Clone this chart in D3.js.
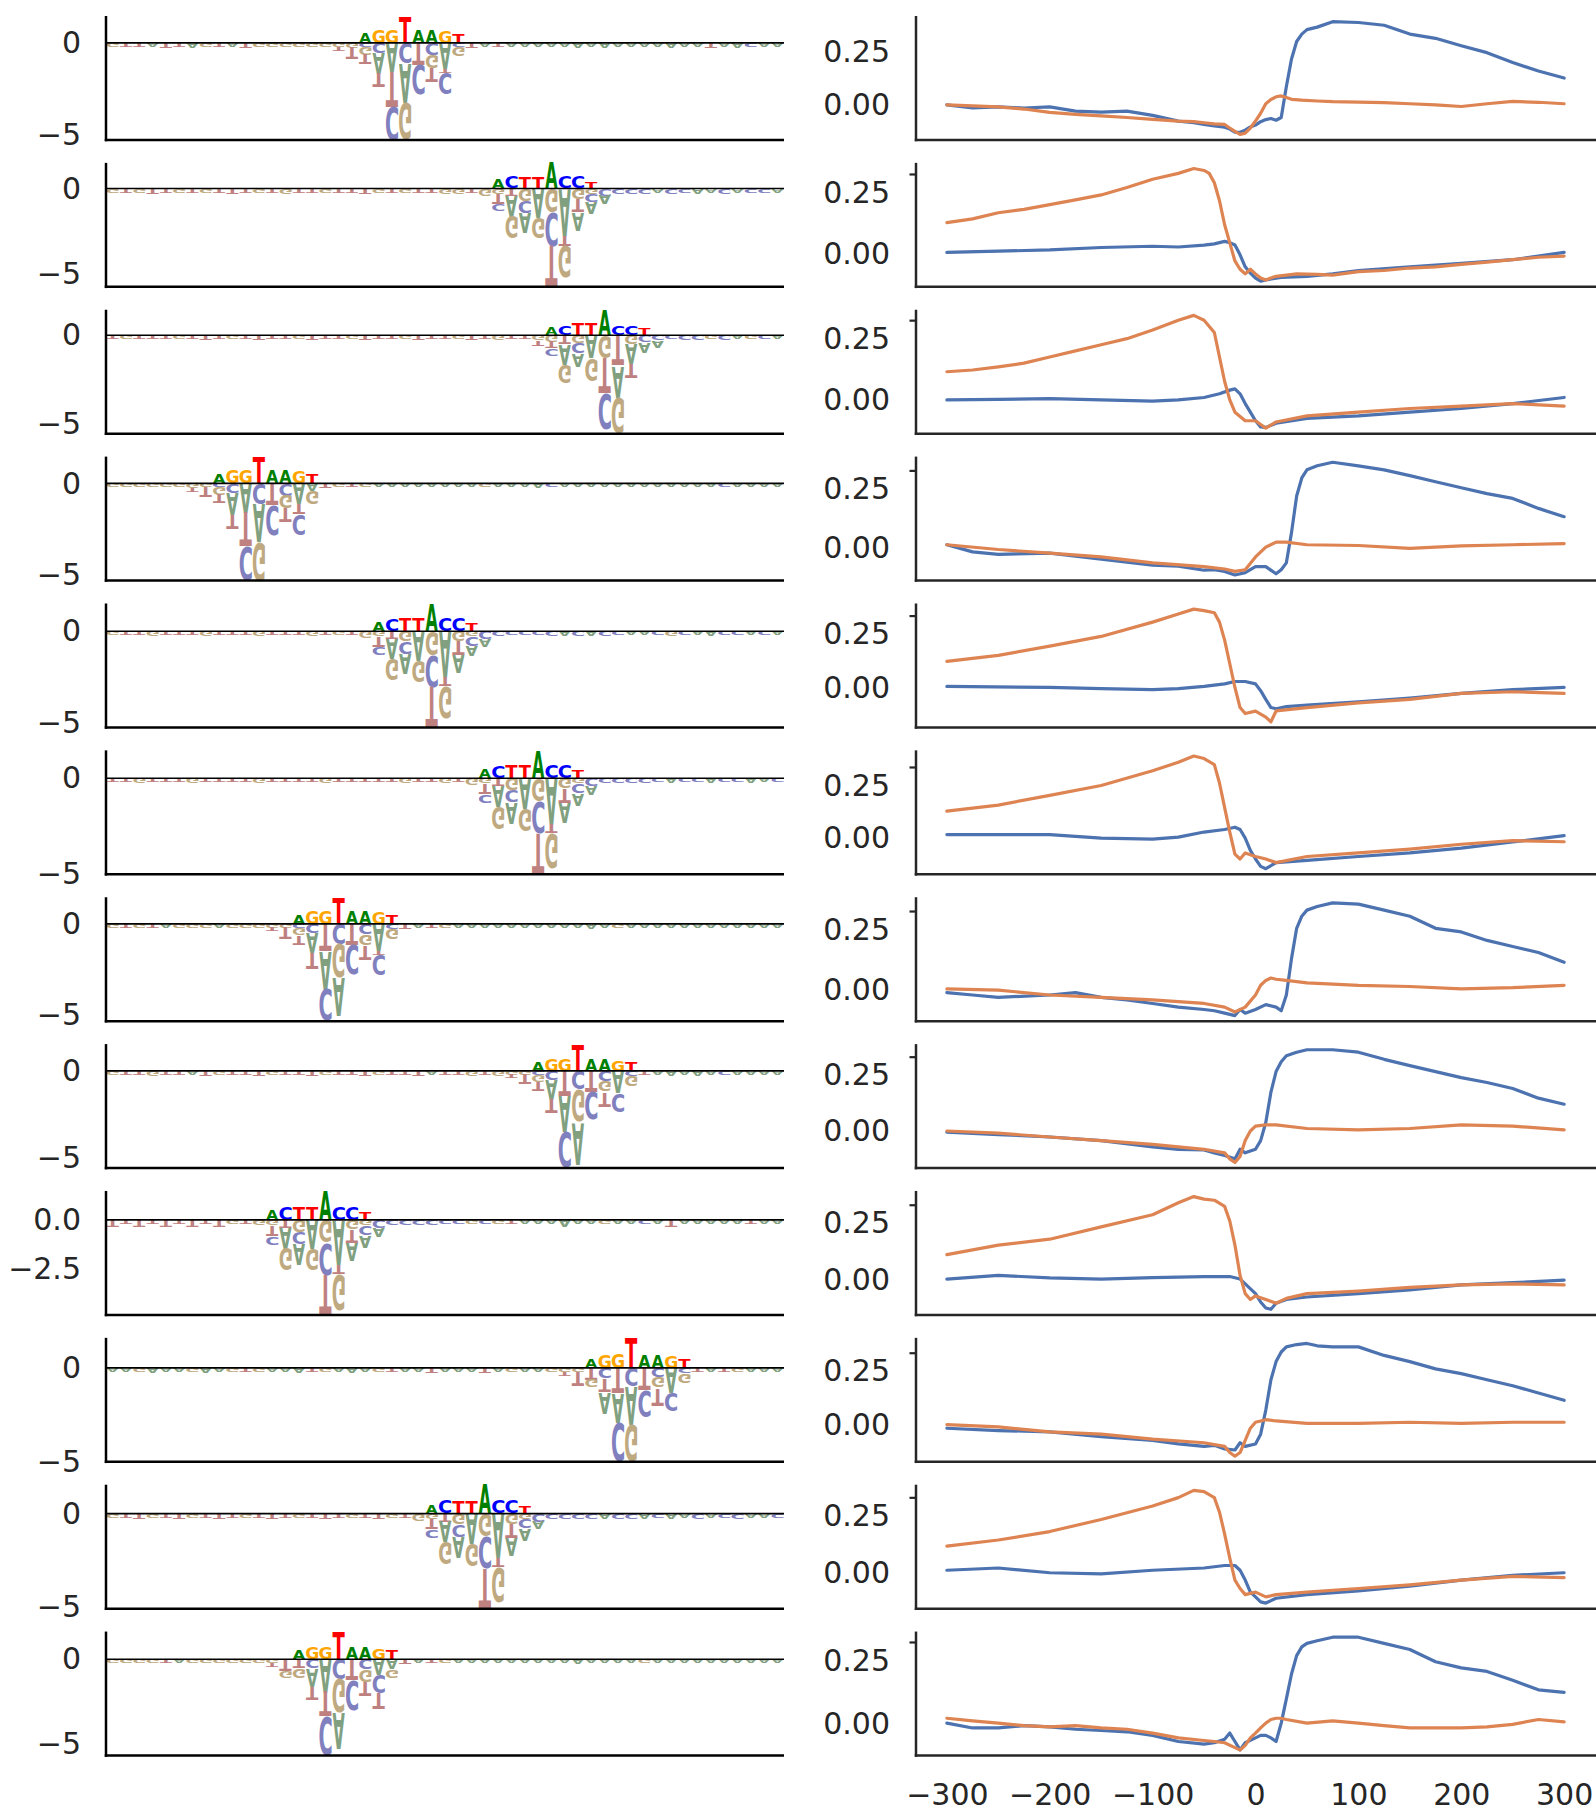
<!DOCTYPE html>
<html><head><meta charset="utf-8">
<script src="https://cdn.jsdelivr.net/npm/d3@7"></script>
<style>body{margin:0;background:#fff;} svg{display:block;}</style>
</head><body>
<svg id="chart" width="1596" height="1813"></svg>
<script>
// ---------------- LOGO DATA ----------------
const logoStart = [19, 29, 33, 8, 20, 28, 14, 32, 12, 36, 24, 14];
const logoMotif = ["AGGTAAGT","ACTTACCT","ACTTACCT","AGGTAAGT","ACTTACCT","ACTTACCT","AGGTAAGT","AGGTAAGT","ACTTACCT","AGGTAAGT","ACTTACCT","AGGTAAGT"];
const logoTop = [
  [.55,.75,.75,1.45,.7,.7,.65,.5],
  [.54,.68,.68,.68,1.5,.73,.73,.4],
  [.46,.55,.65,.65,1.45,.55,.55,.33],
  [.5,.7,.7,1.46,.7,.7,.65,.5],
  [.5,.65,.7,.7,1.52,.7,.7,.4],
  [.5,.65,.7,.7,1.45,.7,.7,.4],
  [.5,.75,.75,1.47,.7,.7,.65,.5],
  [.5,.7,.7,1.54,.7,.7,.65,.5],
  [.55,.7,.7,.7,1.49,.7,.7,.4],
  [.5,.7,.75,1.6,.7,.7,.65,.5],
  [.5,.7,.7,.7,1.56,.7,.7,.4],
  [.5,.7,.75,1.63,.7,.7,.65,.5]
];
// stacks below zero for positions start-2 .. start+9 (listed from zero downward)
const logoBelow = [
  ["G.2 T.2","G.25 T.6","C.2 G.4 T.55","C.55 A1.1 T.8","A1.55 T1.9 C1.8","C1.1 A2.1 G2.05","T1.2 C1.6","C.65 G.7 T.8","A1.4 T.2 C1.2","C.2 G.5","T.3","A.2"],
  ["T.25","G.4","G.3 T.6 C.4","T.4 A1.2 G1.3","G.7 C.7 A1.15","A1.7 G1.2","G1.4 C1.95 T2.4","A2.75 T.6 G1.9","G.6 T.8 A1.05","G.3 C.5 A.65","C.4 A.5","C.3"],
  ["T.25","G.3 T.3","G.35 T.4 C.4","T.55 A1.1 G1.05","G.45 C.6 A.75","A1.3 G1.3","G1.3 T2.0 C2.1","T1.75 A1.8 G2.03","G.5 A1.1 T.85","C.4 A.6","C.3 A.4","C.25"],
  ["G.25 T.2","G.2 T.6","C.2 G.4 T.5","C.5 A1.2 T.8","A1.55 T1.9 C1.85","C1.1 A2.1 G2.1","T1.2 C1.6","C.65 G.7 T.8","A1.1 T.6 C1.1","A.4 G.7","T.25","G.2"],
  ["T.2","G.35","G.3 T.55 C.4","T.4 A1.1 G1.2","G.6 C.65 A1.1","A1.6 G1.2","G1.3 C1.75 T2.2","A2.5 T.5 G1.8","G.55 T.75 A1.0","G.3 C.5 A.6","C.4 A.45","C.3"],
  ["T.2","G.35","G.3 T.55 C.4","T.4 A1.1 G1.2","G.6 C.65 A1.1","A1.6 G1.2","G1.2 C1.7 T2.1","A2.4 T.5 G1.8","G.55 T.75 A1.0","G.3 C.5 A.6","C.4 A.45","C.3"],
  ["G.2 T.2","G.2 T.65","C.25 G.4 T.5","C.5 A1.1 T.9","T1.5 A2.07 C1.8","C1.1 G1.85 A2.1","T1.15 C1.6","C.6 G.6 T.8","A1.5 T.2 C1.1","C.3 G.6","T.25","A.2"],
  ["G.2 T.2","G.2 T.6","C.25 G.4 T.5","C.5 A1.1 T.85","T1.4 A2.1 C2.1","C1.1 G1.9 A2.4","T1.2 C1.6","C.6 G.65 T.8","A1.3 C1.1","C.3 G.6","T.25","A.2"],
  ["T.2","G.3","G.3 T.55 C.4","T.4 A1.05 G1.15","G.6 C.6 A1.1","A1.5 G1.1","G1.2 C1.65 T2.04","A2.3 T.5 G1.9","G.5 T.7 A.95","G.3 C.5 A.6","C.4 A.45","C.3"],
  ["G.2 T.2","G.2 T.75","T.6 G.45","C.6 T.7 A1.15","T1.35 A1.55 C2.1","C1.0 A2.0 G2.0","T1.2 C1.4","C.5 G.6 T.9","A1.3 C1.0","C.3 G.5","T.2","A.2"],
  ["T.2","G.35","G.3 T.55 C.4","T.4 A1.1 G1.2","G.6 C.65 A1.1","A1.6 G1.2","G1.25 C1.75 T2.12","A2.4 T.5 G1.9","G.55 T.75 A1.0","G.3 C.5 A.6","C.4 A.45","C.3"],
  ["G.2 T.2","T.7 G.4","T.55 G.55","C.55 A1.1 T.8","A1.9 T1.45 C2.33","C1.15 G2.0 A2.2","T1.25 C1.75","C.6 G.75 T.85","A.9 C1.1 T.9","A.6 G.5","T.3","A.2"]
];
// faint background letters below zero (one per position, '.' = inside motif block); heights in tenths
const logoBgSeq = [
  "GTTATTAGTATGGGGGG............TAAAAAAAAAAAAAAATAACAA",
  "GTGTTGTGTTTGTGTTGTTTGTGTTGG............CCACCAACACCA",
  "TGTTTGTTTGTTTTGTTTGTTTGTTTGTTGT............CCGCAGCA",
  "GGGGGG............TGAAAAAAAAGAAAACAAAAAAAAAAAACAAAA",
  "GTTGTTTGTTTGTTTGTG............CCCCACACCAACGCAACCACA",
  "TTGTTTGTTTTGTTTTGTTTTTGTTG............CCCCACCACCAAC",
  "GTGTAGGGAGGG............TGAAAAAAAAAAAAGAAAAAAAAAAAA",
  "GTTGTTATGTTTGTTTGTTTGTTTATTGTG............AAAACAAAA",
  "TTTTTTTTTG............CCCCCGCGTAAAAAAGAACATAAAAATAA",
  "AAGAAAGAAGTGAAATGAAAGTAATAAATAGAAG............TGAAA",
  "GTTGTTGTTTGTTTGTTTGTTG............CCCACCACAACACCAAC",
  "GGGGTAGGGGGG............TGAAAAAAAAAAAAAAGAAAAAAAAAA"
];
const logoBgH = [
  "222232322232222222222222222222222223232222322323222",
  "222322222322232222232222233333333333333332323232222",
  "222222232223222322232223222323233333333333333232222",
  "222222222222222222222222222222223222222222222222222",
  "222322232223222322222222222222222333332222322322222",
  "223222322223222232222232233333333333333332322322322",
  "222222222222222222222222222222222222322222222222222",
  "222322232223222322232223222323333333333333323222222",
  "323232323233333333333333322222222232222222322222222",
  "222322232222223222322222322232222222222222222222222",
  "223223223222322232223233333333333333333332323223222",
  "222222222222222222222222222222222223222222222222222"
];
const logoTickVals = [[0,-5],[0,-5],[0,-5],[0,-5],[0,-5],[0,-5],[0,-5],[0,-5],[0,-2.5],[0,-5],[0,-5],[0,-5]];

// ---------------- LINE DATA (x = position, y = value) ----------------
const blue1 = [[-300,0],[-275,-.015],[-250,-.01],[-225,-.015],[-200,-.01],[-175,-.03],[-150,-.035],[-125,-.03],[-100,-.05],[-75,-.077],[-60,-.085],[-50,-.093],[-40,-.1],[-30,-.106],[-25,-.115],[-20,-.13],[-15,-.13],[-10,-.12],[-5,-.105],[0,-.096],[5,-.08],[10,-.07],[15,-.065],[20,-.073],[25,-.06],[30,.087],[35,.217],[40,.3],[45,.335],[50,.356],[60,.368],[75,.394],[100,.39],[125,.377],[150,.335],[175,.315],[200,.28],[225,.247],[250,.2],[275,.16],[300,.127]];
const orange1 = [[-300,0],[-275,-.005],[-250,-.01],[-225,-.02],[-200,-.036],[-175,-.045],[-150,-.052],[-125,-.06],[-100,-.069],[-75,-.077],[-60,-.08],[-50,-.085],[-40,-.09],[-30,-.093],[-25,-.11],[-20,-.126],[-15,-.14],[-10,-.134],[-5,-.11],[0,-.077],[5,-.04],[10,.005],[15,.025],[20,.038],[25,.042],[30,.035],[35,.026],[45,.022],[60,.018],[75,.015],[100,.013],[125,.01],[150,.005],[175,0],[200,-.008],[225,.005],[250,.016],[275,.012],[300,.005]];
const blue2 = [[-300,.005],[-250,.01],[-200,.015],[-150,.025],[-100,.03],[-75,.027],[-50,.035],[-40,.04],[-30,.05],[-25,.045],[-20,.035],[-15,-.005],[-10,-.054],[-5,-.08],[0,-.1],[5,-.113],[10,-.108],[20,-.1],[25,-.097],[50,-.093],[75,-.083],[100,-.069],[150,-.054],[200,-.04],[250,-.025],[300,.005]];
const orange2 = [[-300,.127],[-275,.142],[-250,.167],[-225,.181],[-200,.2],[-175,.22],[-150,.24],[-125,.27],[-100,.304],[-75,.328],[-60,.348],[-50,.34],[-45,.328],[-40,.29],[-35,.216],[-30,.118],[-25,.044],[-20,-.03],[-15,-.064],[-10,-.083],[-5,-.064],[0,-.083],[5,-.1],[10,-.108],[15,-.1],[20,-.093],[40,-.083],[60,-.085],[75,-.088],[100,-.074],[125,-.069],[150,-.059],[175,-.054],[200,-.044],[225,-.035],[250,-.025],[275,-.015],[300,-.01]];
const blue3 = [[-300,0],[-250,.002],[-200,.005],[-150,0],[-100,-.005],[-75,0],[-50,.01],[-35,.025],[-25,.04],[-20,.045],[-15,.025],[-10,-.015],[-5,-.05],[0,-.085],[5,-.11],[10,-.112],[20,-.095],[50,-.075],[100,-.065],[150,-.05],[200,-.035],[250,-.015],[300,.01]];
const orange3 = [[-300,.115],[-275,.122],[-250,.135],[-225,.15],[-200,.175],[-175,.2],[-150,.225],[-125,.25],[-100,.285],[-75,.325],[-60,.345],[-50,.325],[-40,.275],[-35,.175],[-30,.075],[-25,0],[-20,-.05],[-10,-.085],[0,-.085],[5,-.1],[10,-.115],[20,-.09],[50,-.065],[100,-.05],[150,-.035],[200,-.025],[250,-.015],[300,-.025]];
const blue4 = [[-300,.015],[-275,-.015],[-250,-.025],[-200,-.02],[-150,-.046],[-100,-.071],[-75,-.075],[-50,-.092],[-40,-.09],[-30,-.097],[-20,-.112],[-10,-.102],[0,-.077],[10,-.077],[20,-.107],[25,-.09],[30,-.061],[35,.066],[40,.22],[45,.296],[50,.33],[60,.347],[75,.362],[100,.347],[125,.33],[150,.306],[175,.28],[200,.255],[225,.23],[250,.21],[275,.168],[300,.133]];
const orange4 = [[-300,.015],[-250,-.005],[-200,-.02],[-150,-.036],[-100,-.061],[-50,-.077],[-30,-.087],[-20,-.097],[-10,-.09],[0,-.036],[10,.005],[20,.026],[30,.026],[50,.015],[100,.012],[150,0],[200,.01],[250,.015],[300,.02]];
const blue5 = [[-300,.005],[-200,0],[-150,-.005],[-100,-.01],[-75,-.005],[-50,.005],[-30,.017],[-20,.028],[-10,.028],[0,.017],[5,-.015],[10,-.056],[15,-.094],[20,-.1],[30,-.09],[50,-.083],[100,-.067],[150,-.05],[200,-.028],[250,-.01],[300,0]];
const orange5 = [[-300,.122],[-250,.15],[-200,.194],[-150,.239],[-100,.306],[-75,.344],[-60,.367],[-50,.36],[-40,.35],[-35,.306],[-30,.222],[-25,.111],[-20,0],[-15,-.094],[-10,-.122],[0,-.111],[10,-.139],[15,-.161],[20,-.11],[50,-.094],[100,-.072],[150,-.056],[200,-.028],[250,-.02],[300,-.028]];
const blue6 = [[-300,.017],[-200,.017],[-150,0],[-100,-.005],[-75,.005],[-50,.029],[-30,.041],[-20,.052],[-15,.041],[-10,0],[-5,-.058],[0,-.099],[5,-.134],[10,-.145],[20,-.116],[50,-.105],[100,-.087],[150,-.07],[200,-.047],[250,-.018],[300,.012]];
const orange6 = [[-300,.128],[-250,.157],[-200,.203],[-150,.25],[-100,.32],[-75,.36],[-60,.39],[-50,.378],[-40,.349],[-35,.262],[-30,.145],[-25,.029],[-20,-.076],[-15,-.099],[-10,-.07],[0,-.087],[10,-.099],[20,-.116],[50,-.087],[100,-.07],[150,-.052],[200,-.029],[250,-.012],[300,-.017]];
const blue7 = [[-300,-.01],[-275,-.02],[-250,-.03],[-200,-.02],[-175,-.01],[-150,-.03],[-125,-.04],[-100,-.055],[-75,-.07],[-50,-.08],[-40,-.085],[-30,-.095],[-20,-.105],[-15,-.08],[-10,-.095],[0,-.08],[10,-.06],[20,-.07],[25,-.085],[30,-.02],[35,.13],[40,.255],[45,.305],[50,.33],[60,.345],[75,.36],[100,.355],[125,.33],[150,.305],[175,.255],[200,.24],[225,.205],[250,.18],[275,.155],[300,.115]];
const orange7 = [[-300,.005],[-250,0],[-200,-.02],[-150,-.03],[-100,-.04],[-50,-.055],[-30,-.07],[-20,-.09],[-10,-.07],[0,-.02],[5,.02],[10,.04],[15,.05],[20,.045],[30,.04],[50,.03],[100,.02],[150,.015],[200,.005],[250,.01],[300,.02]];
const blue8 = [[-300,-.005],[-250,-.016],[-200,-.027],[-150,-.043],[-100,-.071],[-75,-.082],[-50,-.085],[-40,-.098],[-30,-.11],[-20,-.125],[-15,-.082],[-10,-.098],[0,-.082],[5,-.043],[10,.038],[15,.174],[20,.266],[25,.31],[30,.337],[40,.353],[50,.364],[75,.364],[100,.353],[125,.321],[150,.293],[175,.266],[200,.239],[225,.217],[250,.19],[275,.147],[300,.12]];
const orange8 = [[-300,0],[-250,-.01],[-200,-.027],[-150,-.043],[-100,-.06],[-50,-.082],[-30,-.098],[-25,-.125],[-20,-.141],[-15,-.114],[-10,-.043],[-5,0],[0,.022],[10,.027],[20,.027],[50,.011],[100,.005],[150,.011],[200,.027],[250,.022],[300,.005]];
const blue9 = [[-300,.005],[-250,.021],[-200,.01],[-150,.005],[-100,.011],[-50,.016],[-25,.016],[-15,.005],[-10,-.016],[0,-.059],[5,-.096],[10,-.122],[15,-.128],[20,-.101],[30,-.085],[50,-.074],[100,-.059],[150,-.043],[200,-.021],[250,-.011],[300,0]];
const orange9 = [[-300,.112],[-250,.154],[-200,.18],[-150,.234],[-100,.287],[-75,.34],[-60,.367],[-50,.356],[-40,.351],[-30,.324],[-25,.26],[-20,.154],[-15,.021],[-10,-.059],[-5,-.085],[0,-.069],[10,-.085],[20,-.101],[30,-.08],[50,-.059],[100,-.048],[150,-.032],[200,-.021],[250,-.016],[300,-.021]];
const blue10 = [[-300,-.017],[-250,-.028],[-200,-.034],[-150,-.057],[-100,-.074],[-75,-.09],[-50,-.102],[-40,-.097],[-30,-.114],[-20,-.119],[-15,-.085],[-10,-.102],[0,-.091],[5,-.045],[10,.068],[15,.21],[20,.295],[25,.34],[30,.364],[40,.375],[50,.38],[60,.369],[75,.364],[100,.364],[125,.324],[150,.295],[175,.261],[200,.239],[225,.21],[250,.182],[275,.148],[300,.114]];
const orange10 = [[-300,0],[-250,-.011],[-200,-.034],[-150,-.045],[-100,-.068],[-50,-.085],[-30,-.102],[-25,-.131],[-20,-.148],[-15,-.131],[-10,-.074],[-5,-.017],[0,.011],[10,.023],[20,.017],[50,.006],[100,.006],[150,.011],[200,.006],[250,.011],[300,.011]];
const blue11 = [[-300,.011],[-250,.021],[-200,0],[-150,-.005],[-100,.011],[-50,.021],[-30,.032],[-20,.032],[-15,.011],[-10,-.032],[-5,-.085],[0,-.106],[5,-.128],[10,-.133],[20,-.112],[50,-.096],[100,-.08],[150,-.059],[200,-.032],[250,-.011],[300,0]];
const orange11 = [[-300,.117],[-250,.144],[-200,.181],[-150,.234],[-100,.293],[-75,.33],[-60,.362],[-50,.356],[-40,.33],[-35,.266],[-30,.17],[-25,.064],[-20,-.032],[-15,-.069],[-10,-.096],[0,-.085],[10,-.106],[20,-.096],[50,-.085],[100,-.069],[150,-.053],[200,-.032],[250,-.016],[300,-.021]];
const blue12 = [[-300,.005],[-275,-.014],[-250,-.014],[-225,-.005],[-200,-.01],[-175,-.019],[-150,-.024],[-125,-.029],[-100,-.043],[-75,-.067],[-50,-.077],[-40,-.072],[-30,-.058],[-25,-.034],[-20,-.067],[-15,-.1],[-10,-.072],[0,-.053],[5,-.043],[10,-.043],[15,-.053],[20,-.067],[25,.005],[30,.1],[35,.197],[40,.269],[45,.303],[50,.317],[60,.327],[75,.341],[100,.341],[125,.317],[150,.293],[175,.245],[200,.221],[225,.207],[250,.173],[275,.135],[300,.125]];
const orange12 = [[-300,.024],[-275,.014],[-250,.005],[-225,-.005],[-200,-.01],[-175,-.005],[-150,-.014],[-125,-.019],[-100,-.034],[-75,-.053],[-50,-.063],[-40,-.067],[-30,-.072],[-20,-.091],[-15,-.1],[-10,-.082],[-5,-.053],[0,-.034],[5,-.014],[10,.005],[15,.019],[20,.024],[25,.024],[30,.019],[50,.005],[75,.014],[100,.005],[125,-.005],[150,-.014],[175,-.014],[200,-.014],[225,-.01],[250,0],[275,.019],[300,.01]];
const blueSeries = [blue1,blue2,blue3,blue4,blue5,blue6,blue7,blue8,blue9,blue10,blue11,blue12];
const orangeSeries = [orange1,orange2,orange3,orange4,orange5,orange6,orange7,orange8,orange9,orange10,orange11,orange12];
const lineTickVals = [0, 0.25];
const xTickVals = [-300,-200,-100,0,100,200,300];

// ---------------- LAYOUT ----------------
const rowTop0 = 16, rowPitch = 146.87, rowH = 124;
const leftX0 = 106, leftX1 = 784;
const rightX0 = 916, rightX1 = 1595;
const FONT = "DejaVu Sans";
const TXT = "#262626";
const colorsTop = {A:"#008000", C:"#0000ff", G:"#ffa500", T:"#ff0000"};
const colorsBelow = {A:"#80a080", C:"#8080bf", G:"#bfa980", T:"#bf8080"};

const svg = d3.select("#chart");
svg.append("rect").attr("width",1596).attr("height",1813).attr("fill","#fff");

// glyph ink metrics
const cvs = document.createElement("canvas");
const ctx = cvs.getContext("2d");
ctx.font = "bold 100px 'DejaVu Sans'";
const metrics = {};
for (const L of "ACGT") {
  const m = ctx.measureText(L);
  metrics[L] = {l: m.actualBoundingBoxLeft, r: m.actualBoundingBoxRight, a: m.actualBoundingBoxAscent, d: m.actualBoundingBoxDescent};
}
function drawLetter(g, L, x0, x1, yTop, yBot, flip, color) {
  const h = yBot - yTop;
  if (!(h > 0.05)) return;
  const m = metrics[L];
  const sx = (x1 - x0) / (m.l + m.r), sy = h / (m.a + m.d);
  const t = flip
    ? `translate(${x0},${yBot}) scale(${sx},${-sy}) translate(${m.l},${m.a})`
    : `translate(${x0},${yTop}) scale(${sx},${sy}) translate(${m.l},${m.a})`;
  g.append("text").text(L).attr("font-family", FONT).attr("font-weight", "bold")
    .attr("font-size", 100).attr("fill", color).attr("transform", t);
}
function parseStack(s) {
  return s.trim().split(/\s+/).map(tok => ({L: tok[0], h: +tok.slice(1)}));
}

const xLogo = d3.scaleLinear().domain([-0.5, 50.5]).range([leftX0, leftX1]);
const xLine = d3.scaleLinear().domain([-330, 330]).range([rightX0, rightX1]);
const letterW = 0.92;

for (let r = 0; r < 12; r++) {
  const top = rowTop0 + r * rowPitch, bot = top + rowH;

  // ---- logo panel ----
  const s = logoStart[r];
  const cols = [];
  for (let p = 0; p <= 50; p++) cols.push({pos: [], neg: []});
  const motif = logoMotif[r];
  for (let i = 0; i < motif.length; i++) cols[s + i].pos.push({L: motif[i], h: logoTop[r][i]});
  logoBelow[r].forEach((st, i) => { cols[s - 2 + i].neg = parseStack(st); });
  const seq = logoBgSeq[r], hs = logoBgH[r];
  for (let p = 0; p <= 50; p++) {
    const L = seq[p];
    if (L && L !== ".") cols[p].neg.push({L, h: (+hs[p] || 2) / 10});
  }
  const maxPos = d3.max(cols, c => d3.sum(c.pos, d => d.h));
  const minNeg = -d3.max(cols, c => d3.sum(c.neg, d => d.h));
  const yLogo = d3.scaleLinear().domain([minNeg, maxPos]).range([bot, top]);
  const gL = svg.append("g");
  cols.forEach((c, p) => {
    const x0 = xLogo(p - letterW / 2), x1 = xLogo(p + letterW / 2);
    let acc = 0;
    c.pos.forEach(d => { drawLetter(gL, d.L, x0, x1, yLogo(acc + d.h), yLogo(acc), false, colorsTop[d.L]); acc += d.h; });
    acc = 0;
    c.neg.forEach(d => { drawLetter(gL, d.L, x0, x1, yLogo(acc), yLogo(acc - d.h), true, colorsBelow[d.L]); acc -= d.h; });
  });
  gL.append("line").attr("x1", leftX0).attr("x2", leftX1).attr("y1", yLogo(0)).attr("y2", yLogo(0))
    .attr("stroke", "#000").attr("stroke-width", 1.6);
  gL.append("line").attr("x1", leftX0).attr("x2", leftX0).attr("y1", top).attr("y2", bot + 1.25)
    .attr("stroke", "#000").attr("stroke-width", 2.5);
  gL.append("line").attr("x1", leftX0 - 1.25).attr("x2", leftX1).attr("y1", bot).attr("y2", bot)
    .attr("stroke", "#000").attr("stroke-width", 2.5);
  const tv = logoTickVals[r];
  const fmt = tv.some(v => !Number.isInteger(v)) ? d3.format(".1f") : d3.format("d");
  const axL = d3.axisLeft(yLogo).tickValues(tv).tickSize(0).tickPadding(25).tickFormat(fmt);
  const gAx = svg.append("g").attr("transform", `translate(${leftX0},0)`).call(axL);
  gAx.select(".domain").remove();
  gAx.selectAll("text").attr("font-family", FONT).attr("font-size", 30).attr("fill", TXT);

  // ---- line panel ----
  const bS = blueSeries[r], oS = orangeSeries[r];
  const vals = bS.concat(oS).map(d => d[1]);
  const mn = d3.min(vals), mx = d3.max(vals), pad = (mx - mn) * 0.05;
  const yL = d3.scaleLinear().domain([mn - pad, mx + pad]).range([bot, top]);
  const line = d3.line().x(d => xLine(d[0])).y(d => yL(d[1]));
  const gR = svg.append("g");
  gR.append("path").datum(bS).attr("d", line).attr("fill", "none").attr("stroke", "#4c72b0")
    .attr("stroke-width", 3.2).attr("stroke-linejoin", "round").attr("stroke-linecap", "round");
  gR.append("path").datum(oS).attr("d", line).attr("fill", "none").attr("stroke", "#dd8452")
    .attr("stroke-width", 3.2).attr("stroke-linejoin", "round").attr("stroke-linecap", "round");
  gR.append("line").attr("x1", rightX0).attr("x2", rightX0).attr("y1", top).attr("y2", bot + 1.25)
    .attr("stroke", TXT).attr("stroke-width", 2.5);
  gR.append("line").attr("x1", rightX0 - 1.25).attr("x2", rightX1 + 5).attr("y1", bot).attr("y2", bot)
    .attr("stroke", TXT).attr("stroke-width", 2.5);
  if (r > 0) {
    const ty = yL(0.25) - 18;
    gR.append("line").attr("x1", rightX0 - 6.5).attr("x2", rightX0).attr("y1", ty).attr("y2", ty)
      .attr("stroke", TXT).attr("stroke-width", 2.2);
  }
  const axR = d3.axisLeft(yL).tickValues(lineTickVals).tickSize(0).tickPadding(26).tickFormat(d3.format(".2f"));
  const gAR = svg.append("g").attr("transform", `translate(${rightX0},0)`).call(axR);
  gAR.select(".domain").remove();
  gAR.selectAll("text").attr("font-family", FONT).attr("font-size", 30).attr("fill", TXT);

  if (r === 11) {
    const axB = d3.axisBottom(xLine).tickValues(xTickVals).tickSize(0).tickPadding(28).tickFormat(d3.format("d"));
    const gB = svg.append("g").attr("transform", `translate(0,${bot})`).call(axB);
    gB.select(".domain").remove();
    gB.selectAll("text").attr("font-family", FONT).attr("font-size", 30).attr("fill", TXT);
  }
}
</script>
</body></html>
